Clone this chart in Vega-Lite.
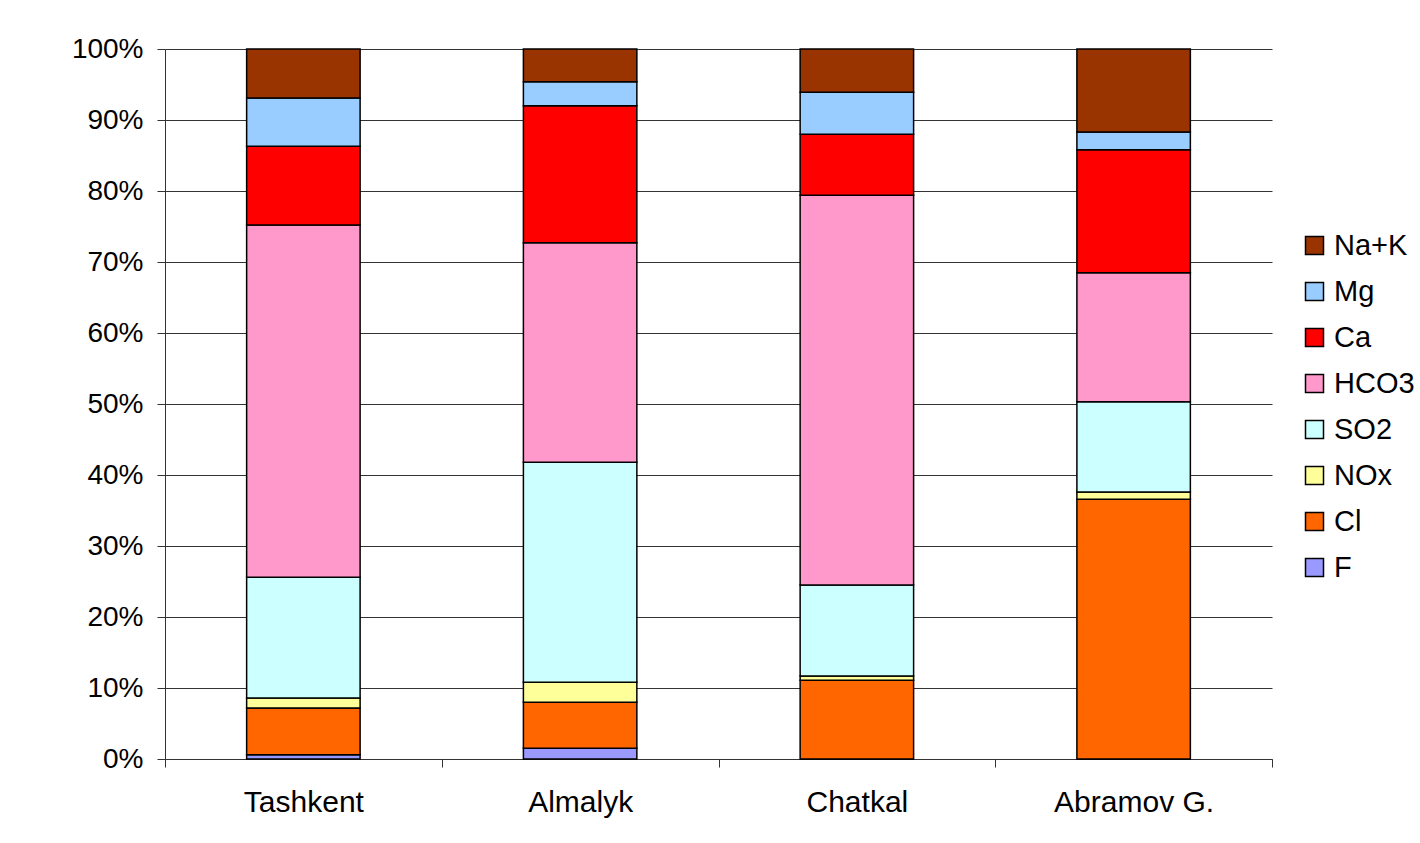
{
  "$schema": "https://vega.github.io/schema/vega-lite/v6.json",
  "width": 1107,
  "height": 710,
  "autosize": {"type": "none"},
  "padding": {"left": 165, "top": 49, "right": 148, "bottom": 84},
  "background": "white",
  "data": {
    "values": [
      {"site": "Tashkent", "ion": "F", "ord": 1, "pct": 0.6},
      {"site": "Tashkent", "ion": "Cl", "ord": 2, "pct": 6.6},
      {"site": "Tashkent", "ion": "NOx", "ord": 3, "pct": 1.4},
      {"site": "Tashkent", "ion": "SO2", "ord": 4, "pct": 17.0},
      {"site": "Tashkent", "ion": "HCO3", "ord": 5, "pct": 49.6},
      {"site": "Tashkent", "ion": "Ca", "ord": 6, "pct": 11.1},
      {"site": "Tashkent", "ion": "Mg", "ord": 7, "pct": 6.8},
      {"site": "Tashkent", "ion": "Na+K", "ord": 8, "pct": 6.9},
      {"site": "Almalyk", "ion": "F", "ord": 1, "pct": 1.5},
      {"site": "Almalyk", "ion": "Cl", "ord": 2, "pct": 6.5},
      {"site": "Almalyk", "ion": "NOx", "ord": 3, "pct": 2.8},
      {"site": "Almalyk", "ion": "SO2", "ord": 4, "pct": 31.0},
      {"site": "Almalyk", "ion": "HCO3", "ord": 5, "pct": 30.9},
      {"site": "Almalyk", "ion": "Ca", "ord": 6, "pct": 19.3},
      {"site": "Almalyk", "ion": "Mg", "ord": 7, "pct": 3.4},
      {"site": "Almalyk", "ion": "Na+K", "ord": 8, "pct": 4.6},
      {"site": "Chatkal", "ion": "F", "ord": 1, "pct": 0},
      {"site": "Chatkal", "ion": "Cl", "ord": 2, "pct": 11.1},
      {"site": "Chatkal", "ion": "NOx", "ord": 3, "pct": 0.6},
      {"site": "Chatkal", "ion": "SO2", "ord": 4, "pct": 12.8},
      {"site": "Chatkal", "ion": "HCO3", "ord": 5, "pct": 54.9},
      {"site": "Chatkal", "ion": "Ca", "ord": 6, "pct": 8.6},
      {"site": "Chatkal", "ion": "Mg", "ord": 7, "pct": 5.9},
      {"site": "Chatkal", "ion": "Na+K", "ord": 8, "pct": 6.1},
      {"site": "Abramov G.", "ion": "F", "ord": 1, "pct": 0},
      {"site": "Abramov G.", "ion": "Cl", "ord": 2, "pct": 36.6},
      {"site": "Abramov G.", "ion": "NOx", "ord": 3, "pct": 1.0},
      {"site": "Abramov G.", "ion": "SO2", "ord": 4, "pct": 12.7},
      {"site": "Abramov G.", "ion": "HCO3", "ord": 5, "pct": 18.2},
      {"site": "Abramov G.", "ion": "Ca", "ord": 6, "pct": 17.3},
      {"site": "Abramov G.", "ion": "Mg", "ord": 7, "pct": 2.5},
      {"site": "Abramov G.", "ion": "Na+K", "ord": 8, "pct": 11.7}
    ]
  },
  "mark": {"type": "bar", "width": {"band": 0.41}, "stroke": "black", "strokeWidth": 1.5},
  "encoding": {
    "x": {
      "field": "site", "type": "nominal", "sort": null,
      "scale": {"paddingInner": 0, "paddingOuter": 0},
      "axis": {"title": null, "labelAngle": 0, "tickBand": "extent", "labelFontSize": 30, "labelPadding": 20, "tickSize": 8, "domainColor": "#333", "tickColor": "#333", "labelColor": "black", "labelFont": "Liberation Sans", "grid": false}
    },
    "y": {
      "field": "pct", "type": "quantitative", "stack": "normalize",
      "scale": {"domain": [0, 1]},
      "axis": {"title": null, "format": ".0%", "values": [0, 0.1, 0.2, 0.3, 0.4, 0.5, 0.6, 0.7, 0.8, 0.9, 1], "labelOverlap": false, "labelFontSize": 28, "labelPadding": 14, "tickSize": 8, "domainColor": "#333", "tickColor": "#333", "gridColor": "#333", "gridWidth": 1, "labelColor": "black", "labelFont": "Liberation Sans"}
    },
    "color": {
      "field": "ion", "type": "nominal",
      "sort": ["Na+K", "Mg", "Ca", "HCO3", "SO2", "NOx", "Cl", "F"],
      "scale": {
        "domain": ["Na+K", "Mg", "Ca", "HCO3", "SO2", "NOx", "Cl", "F"],
        "range": ["#993300", "#99CCFF", "#FF0000", "#FF99CC", "#CCFFFF", "#FFFF99", "#FF6600", "#9999FF"]
      },
      "legend": {
        "title": null, "orient": "none", "legendX": 1135, "legendY": 182,
        "symbolType": "square", "symbolSize": 324, "symbolStrokeColor": "black", "symbolStrokeWidth": 1.5,
        "labelFontSize": 29, "labelFont": "Liberation Sans", "labelColor": "black", "labelOffset": 5, "rowPadding": 16
      }
    },
    "order": {"field": "ord", "type": "quantitative"}
  },
  "config": {"view": {"stroke": null}}
}
